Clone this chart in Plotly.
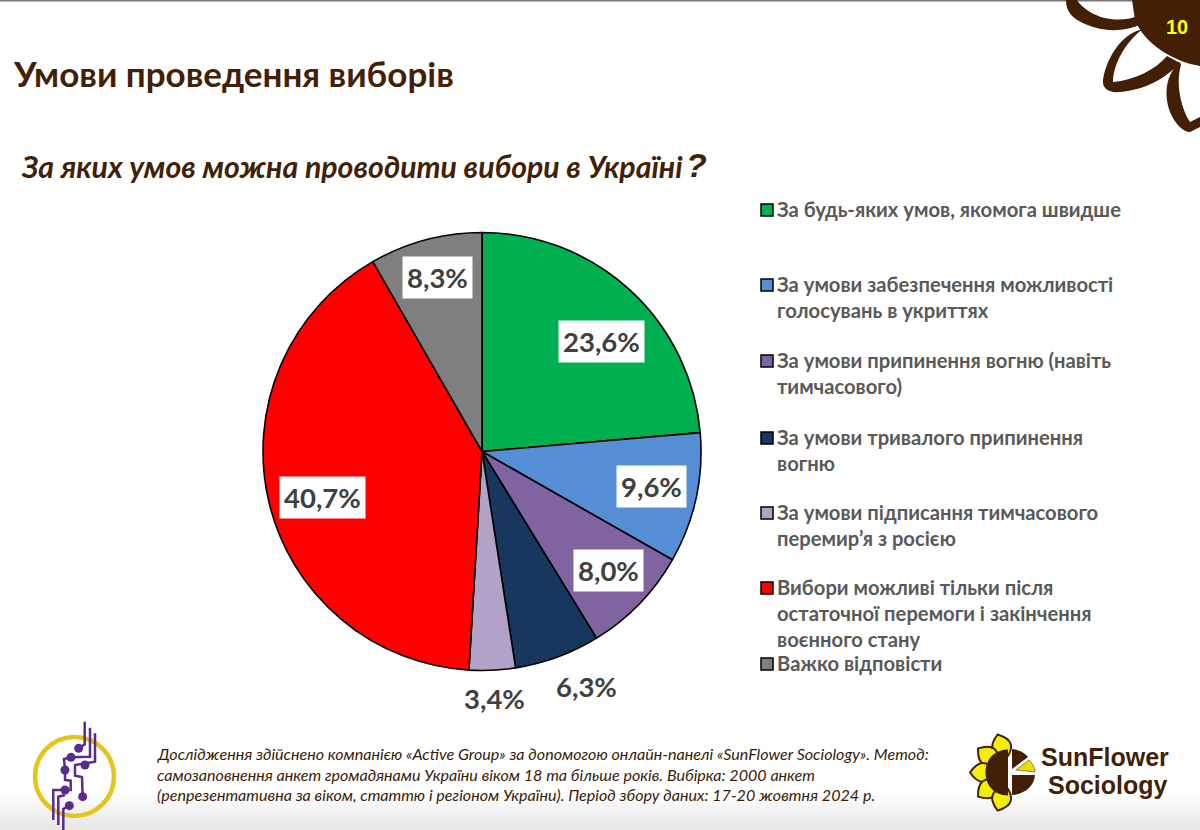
import math
import plotly.graph_objects as go

# chart data
categories = [
    "За будь-яких умов, якомога швидше",
    "За умови забезпечення можливості<br>голосувань в укриттях",
    "За умови припинення вогню (навіть<br>тимчасового)",
    "За умови тривалого припинення<br>вогню",
    "За умови підписання тимчасового<br>перемир’я з росією",
    "Вибори можливі тільки після<br>остаточної перемоги і закінчення<br>воєнного стану",
    "Важко відповісти",
]
values = [23.6, 9.6, 8.0, 6.3, 3.4, 40.7, 8.3]
colors = ["#00B050", "#558ED5", "#8064A2", "#17375E", "#B3A2C7", "#FF0000", "#7F7F7F"]

title_text = "Умови проведення виборів"
question_text = "За яких умов можна проводити вибори в Україні"
page_number = "10"
footnote_lines = [
    "Дослідження здійснено компанією «Active Group» за допомогою онлайн-панелі «SunFlower Sociology». Метод:",
    "самозаповнення анкет громадянами України віком 18 та більше років. Вибірка: 2000 анкет",
    "(репрезентативна за віком, статтю і регіоном України). Період збору даних: 17-20 жовтня 2024 р.",
]

# layout, all in page pixels
W, H = 1200, 830
BROWN = "#421F05"
PIE_X, PIE_Y, PIE_R = 482, 451.5, 219
label_pos = [(601, 341), (651, 486), (608, 570), (586, 686), (494, 698), (322, 497), (437, 277)]
label_boxed = [True, True, True, False, False, True, True]
legend_y = [210, 285, 361, 438, 513, 588, 664]
LINE_H = 26

shapes = []
annotations = []


def text(x, y, s, size, color, family="Lato", anchor="left", **kw):
    annotations.append(dict(
        x=x, y=y, xref="x", yref="y", text=s, showarrow=False, xanchor=anchor, yanchor="middle",
        font=dict(size=size, color=color, family=family), **kw
    ))


def path(d, fill=None, line=None, width=0, layer="above"):
    shapes.append(dict(
        type="path", path=d, xref="x", yref="y", layer=layer,
        fillcolor=fill if fill else "rgba(0,0,0,0)",
        line=dict(color=line if line else "rgba(0,0,0,0)", width=width),
    ))


def dot(cx, cy, r, color):
    shapes.append(dict(type="circle", xref="x", yref="y", x0=cx - r, x1=cx + r, y0=cy - r, y1=cy + r,
                       fillcolor=color, line=dict(width=0)))


# grey fade at the bottom of the slide
for i in range(20):
    v = 255 - int(i * 1.3)
    shapes.append(dict(type="rect", xref="x", yref="y", x0=0, x1=W, y0=790 + i * 2, y1=792 + i * 2,
                       fillcolor=f"rgb({v},{v},{v})", line=dict(width=0), layer="below"))
shapes.append(dict(type="rect", xref="x", yref="y", x0=0, x1=W, y0=0, y1=1.5,
                   fillcolor="#777777", line=dict(width=0), layer="below"))

# flower in the top right corner
path("M1066,0 C1066,12 1072,18 1085,24 C1105,33 1125,31 1140,25 L1140,15 C1125,22 1105,21 1090,12 C1084,8 1079,4 1077,0 Z", BROWN)
path("M1132,0 L1200,0 L1200,66 C1175,62 1145,45 1135,20 Z", BROWN)
path("M1143,29 C1120,34 1106,60 1103,80 C1102,88 1108,93 1120,92 C1145,90 1166,78 1180,63 L1167,56 "
     "C1155,70 1135,80 1113,82 C1113,65 1125,42 1143,29 Z", BROWN)
path("M1180,62 C1165,75 1164,95 1170,112 C1175,124 1183,132 1190,132 L1200,127 L1200,117 L1190,122 "
     "C1182,110 1175,85 1181,65 Z", BROWN)
text(1177, 27, f"<b>{page_number}</b>", 20, "#FFFF00", family="Liberation Sans", anchor="center")

# Active Group logo, yellow ring with a purple circuit
shapes.append(dict(type="circle", xref="x", yref="y", x0=35, x1=114, y0=737, y1=816,
                   fillcolor="rgba(0,0,0,0)", line=dict(color="#E2C619", width=4.5)))
PURPLE = "#5A2A8F"
circuit = [
    [(194, 20), (194, 88), (176, 100)],
    [(210, 38), (210, 125), (153, 127), (132, 132), (135, 165), (135, 195), (152, 197), (152, 225), (100, 225), (100, 315)],
    [(225, 55), (225, 140), (165, 150), (165, 182), (186, 186), (188, 245)],
    [(135, 240), (115, 245), (115, 330)],
    [(148, 272), (130, 282), (130, 345)],
]
for seg in circuit:
    d = "M" + " L".join(f"{x / 3 + 20:.1f},{y / 3 + 715:.1f}" for x, y in seg)
    path(d, line=PURPLE, width=2.5)
for x, y in [(176, 100), (153, 127), (135, 165), (195, 150), (135, 225), (188, 245), (148, 272)]:
    dot(x / 3 + 20, y / 3 + 715, 4.5, PURPLE)

# SunFlower logo
LX, LY = 1010, 772.5
for ang in [-18, -53, -90, -127, -162]:
    a = math.radians(ang)
    ux, uy = math.sin(a), -math.cos(a)
    vx, vy = -uy, ux
    bx, by = LX + 14 * ux, LY + 14 * uy
    tx, ty = LX + 40 * ux, LY + 40 * uy
    mx, my = LX + 27 * ux, LY + 27 * uy
    path(f"M{bx:.1f},{by:.1f} Q{mx + 19 * vx:.1f},{my + 19 * vy:.1f} {tx:.1f},{ty:.1f} "
         f"Q{mx - 19 * vx:.1f},{my - 19 * vy:.1f} {bx:.1f},{by:.1f} Z", "#F2EE05", BROWN, 2)
path(f"M{LX - 2},{LY - 23} C{LX - 32},{LY - 23} {LX - 32},{LY + 23} {LX - 2},{LY + 23} Z", BROWN)
path("M1012,749 C1020,750 1025,753 1028,757 L1012,769 Z", BROWN)
path("M1016,770 L1029,760 C1033,764 1035,768 1035,772 Z", "#E4E000", BROWN, 0.5)
path("M1012,775 L1035,775 C1034,787 1024,794 1012,795 Z", BROWN)
text(1105, 757, "<b>SunFlower</b>", 25, BROWN, family="Liberation Sans", anchor="center")
text(1108, 785, "<b>Sociology</b>", 25, BROWN, family="Liberation Sans", anchor="center")

# headings
text(11, 73, f"<b>{title_text}</b>", 35, BROWN)
text(19, 165.5, f"<b><i>{question_text}</i></b>", 30.3, BROWN)
text(684, 165, "<b><i>?</i></b>", 34, BROWN, family="Liberation Sans")

# hand made legend, the spacing in the original is uneven
for name, col, y in zip(categories, colors, legend_y):
    shapes.append(dict(type="rect", xref="x", yref="y", x0=761, x1=773, y0=y - 6, y1=y + 6,
                       fillcolor=col, line=dict(color="#000000", width=1.5)))
    for i, part in enumerate(name.split("<br>")):
        text(775, y - 1.5 + i * LINE_H, f"<b>{part}</b>", 20.2, "#595959")

# value labels
for v, (x, y), boxed in zip(values, label_pos, label_boxed):
    extra = dict(bgcolor="#FFFFFF", borderpad=4) if boxed else {}
    text(x, y, "<b>" + f"{v:.1f}".replace(".", ",") + "%</b>", 27.5, "#404040", anchor="center", **extra)

# footnote
for i, line in enumerate(footnote_lines):
    text(155, 753.5 + i * 20.5, f"<i>{line}</i>", 16.1, "#3B1A05")

fig = go.Figure()
fig.add_trace(go.Pie(
    labels=[c.replace("<br>", " ") for c in categories],
    values=values,
    sort=False,
    direction="clockwise",
    rotation=0,
    textinfo="none",
    marker=dict(colors=colors, line=dict(color="#000000", width=1.6)),
    domain=dict(
        x=[(PIE_X - PIE_R) / W, (PIE_X + PIE_R) / W],
        y=[1 - (PIE_Y + PIE_R) / H, 1 - (PIE_Y - PIE_R) / H],
    ),
    showlegend=False,
))
# empty trace so the pixel axes exist for shapes and text
fig.add_trace(go.Scatter(x=[None], y=[None], mode="markers", showlegend=False, hoverinfo="skip"))

fig.update_layout(
    width=W,
    height=H,
    margin=dict(l=0, r=0, t=0, b=0),
    paper_bgcolor="#FFFFFF",
    plot_bgcolor="rgba(0,0,0,0)",
    font=dict(family="Lato"),
    xaxis=dict(range=[0, W], visible=False, fixedrange=True),
    yaxis=dict(range=[H, 0], visible=False, fixedrange=True),
    shapes=shapes,
    annotations=annotations,
)

# the browser's default body margin would push the slide 8px off
fig.write_html("out.html", config=dict(displayModeBar=False), post_script="document.body.style.margin='0';")
